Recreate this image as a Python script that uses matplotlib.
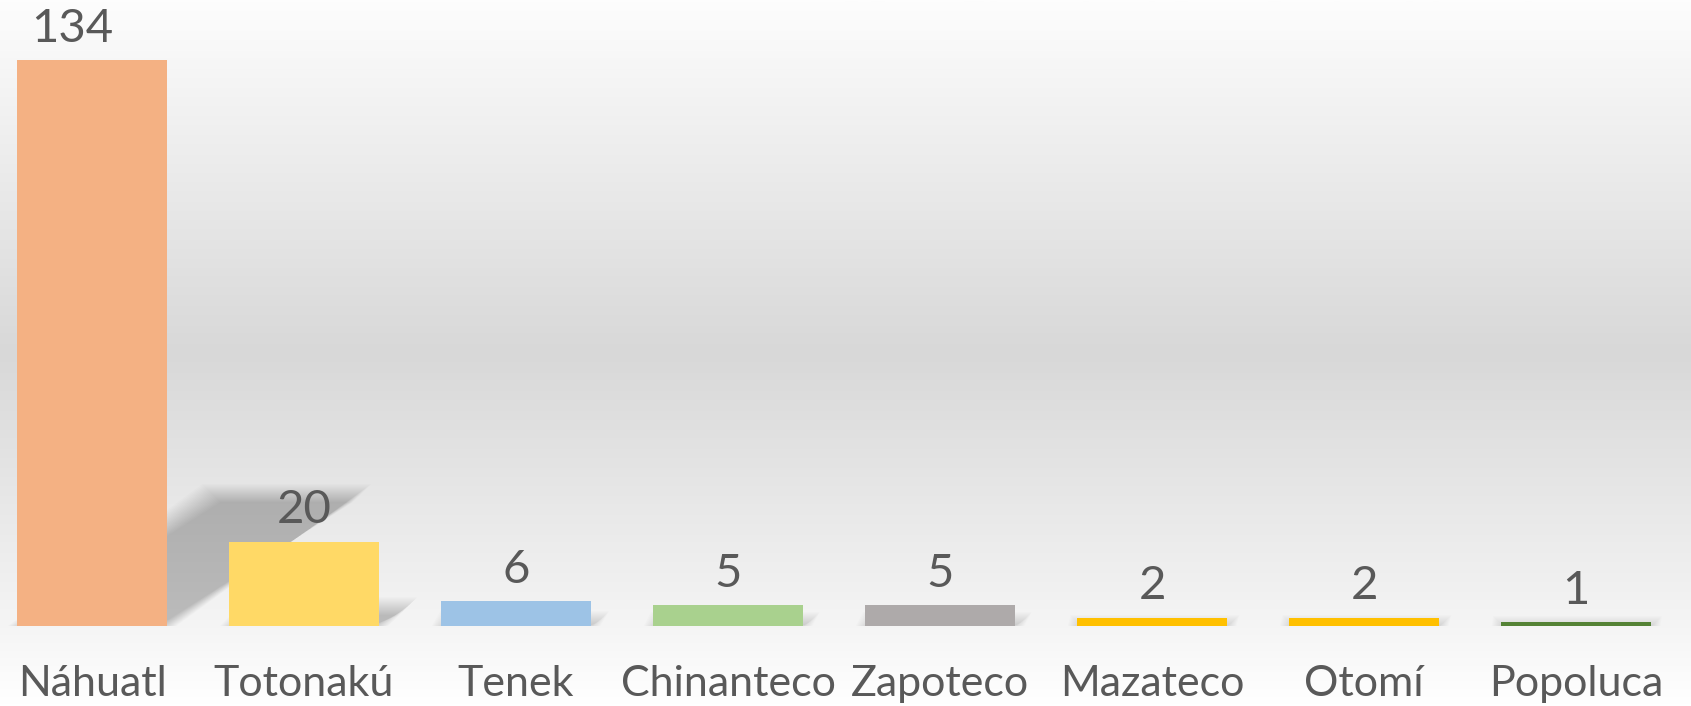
import numpy as np
import matplotlib
matplotlib.use('Agg')
import matplotlib.pyplot as plt
from matplotlib.patches import Polygon
from matplotlib.colors import LinearSegmentedColormap

plt.rcParams['font.family'] = ['Lato', 'DejaVu Sans']

# 데이터
lenguas = ['Náhuatl', 'Totonakú', 'Tenek', 'Chinanteco', 'Zapoteco', 'Mazateco', 'Otomí', 'Popoluca']
valores = [134, 20, 6, 5, 5, 2, 2, 1]
colores = ['#F4B183', '#FFD966', '#9DC3E6', '#A9D18E', '#AEAAAA', '#FFC000', '#FFC000', '#548235']

fig = plt.figure(figsize=(16.91, 7.06), dpi=100)

# 배경 그라데이션 (위 흰색 -> 가운데 회색 -> 아래 흰색)
bg = fig.add_axes([0, 0, 1, 1], zorder=0)
cmap = LinearSegmentedColormap.from_list('bg', [
    (0.0, '#FDFDFD'), (0.50, '#D8D8D8'), (0.88, '#F4F4F4'), (1.0, '#FFFFFF')])
grad = np.linspace(0, 1, 500).reshape(-1, 1)
bg.imshow(grad, aspect='auto', cmap=cmap, extent=[0, 1, 0, 1], origin='upper')
bg.axis('off')

ax = fig.add_axes([0, 80 / 706, 1, 626 / 706], zorder=1)
ax.set_facecolor('none')
ax.set_xlim(-0.434, 7.542)
ax.set_ylim(0, 148.2)

x = np.arange(len(lenguas))
ancho = 0.711

# 1픽셀이 데이터 단위로 얼마인지
px_x = 1 / 212.3
px_y = 1 / 4.224

# 그림자 (원근감 있는 흐린 그림자) - 크기를 조금씩 바꾼 다각형을 겹쳐서 흐림 효과
k, s = 0.235, 0.00686
blur = 9
for xi, v in zip(x, valores):
    for d in range(-blur, blur + 1):
        x0 = xi - ancho / 2 - d * px_x
        x1 = xi + ancho / 2 + d * px_x
        top = k * v + d * px_y
        if top <= 0:
            continue
        pts = [(x0, 0), (x1, 0), (x1 + s * v, top), (x0 + s * v, top)]
        ax.add_patch(Polygon(pts, closed=True, facecolor='black', edgecolor='none',
                             alpha=0.0105, zorder=1))

ax.bar(x, valores, width=ancho, color=colores, zorder=3)

for xi, v in zip(x, valores):
    dx = -14 if v == max(valores) else 0
    ax.annotate(f'{v}', (xi, v), xytext=(dx, 13), textcoords='offset points',
                ha='center', va='baseline', fontsize=34, color='#595959', zorder=4)

ax.set_xticks(x)
ax.set_xticklabels(lenguas, fontsize=31, color='#595959')
ax.tick_params(axis='x', length=0, pad=28)
ax.set_yticks([])
for sp in ax.spines.values():
    sp.set_visible(False)

plt.savefig('out.png', dpi=100)
